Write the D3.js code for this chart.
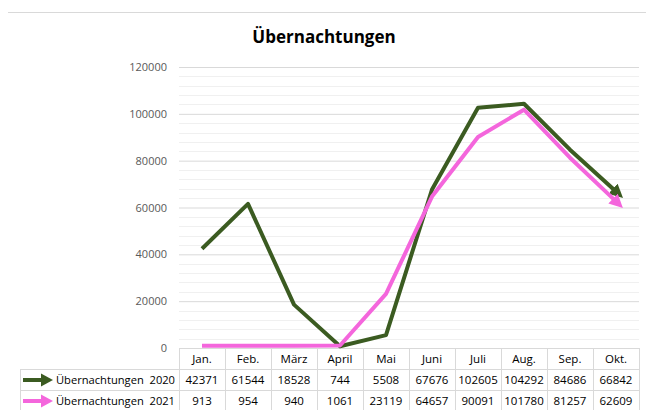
<!DOCTYPE html>
<html>
<head>
    <meta charset="utf-8">
    <title>Übernachtungen</title>
    <script src="https://d3js.org/d3.v7.min.js"></script>
    <style>
        body {
            margin: 0;
            background: #fff;
        }
    </style>
</head>
<body>
    <div id="chart"></div>
    <script>
        let months = ["Jan.", "Feb.", "März", "April", "Mai", "Juni", "Juli", "Aug.", "Sep.", "Okt."];
        let values2020 = [42371, 61544, 18528, 744, 5508, 67676, 102605, 104292, 84686, 66842];
        let values2021 = [913, 954, 940, 1061, 23119, 64657, 90091, 101780, 81257, 62609];
        let seriesNames = ["Übernachtungen  2020", "Übernachtungen  2021"];
        let seriesColors = ["#3b5b21", "#f466dc"];
        let yTicks = [0, 20000, 40000, 60000, 80000, 100000, 120000];

        let series = [values2020, values2021];

        let width = 646;
        let height = 410;
        let marginLeft = 179;
        let marginRight = 7;
        let marginTop = 67;
        let plotBottom = 348;
        let rowH = 21;
        let font = "'Open Sans', 'Liberation Sans', sans-serif";

        let svg = d3.select("#chart").append("svg")
            .attr("width", width)
            .attr("height", height)
            .style("font-family", font);

        // top border of the chart frame
        svg.append("line")
            .attr("x1", 8).attr("x2", width)
            .attr("y1", 12.5).attr("y2", 12.5)
            .attr("stroke", "#d9d9d9");

        svg.append("text")
            .attr("x", 324)
            .attr("y", 43)
            .attr("text-anchor", "middle")
            .style("font-size", "17px")
            .style("font-weight", "bold")
            .text("Übernachtungen");

        let x = d3.scaleBand()
            .domain(months)
            .range([marginLeft, width - marginRight]);

        let y = d3.scaleLinear()
            .domain([0, 120000])
            .range([plotBottom, marginTop]);

        // minor gridlines
        svg.append("g")
            .selectAll("line")
            .data(d3.range(0, 120001, 4000).filter(d => d % 20000 !== 0))
            .join("line")
            .attr("x1", marginLeft).attr("x2", width - marginRight)
            .attr("y1", d => Math.round(y(d)) + 0.5)
            .attr("y2", d => Math.round(y(d)) + 0.5)
            .attr("stroke", "#f0f0f0");

        // major gridlines + labels
        let yAxis = d3.axisLeft(y)
            .tickValues(yTicks)
            .tickSize(-(width - marginRight - marginLeft))
            .tickPadding(12)
            .tickFormat(d3.format("d"));

        svg.append("g")
            .attr("transform", `translate(${marginLeft},0)`)
            .call(yAxis)
            .call(g => g.select(".domain").remove())
            .call(g => g.selectAll(".tick line").attr("stroke", "#d9d9d9"))
            .call(g => g.selectAll(".tick text")
                .attr("fill", "#595959")
                .style("font-size", "11px")
                .style("font-family", font));

        // data table
        let tableLeft = 20;
        let table = svg.append("g");
        let gridColor = "#d9d9d9";

        // horizontal rules
        [plotBottom + rowH, plotBottom + 2 * rowH, plotBottom + 3 * rowH].forEach(yy => {
            table.append("line")
                .attr("x1", tableLeft).attr("x2", width - marginRight)
                .attr("y1", yy + 0.5).attr("y2", yy + 0.5)
                .attr("stroke", gridColor);
        });
        table.append("line")
            .attr("x1", marginLeft).attr("x2", width - marginRight)
            .attr("y1", plotBottom + 0.5).attr("y2", plotBottom + 0.5)
            .attr("stroke", gridColor);

        // vertical rules
        months.forEach(m => {
            table.append("line")
                .attr("x1", x(m) + 0.5).attr("x2", x(m) + 0.5)
                .attr("y1", plotBottom).attr("y2", plotBottom + 3 * rowH)
                .attr("stroke", gridColor);
        });
        table.append("line")
            .attr("x1", width - marginRight + 0.5).attr("x2", width - marginRight + 0.5)
            .attr("y1", plotBottom).attr("y2", plotBottom + 3 * rowH)
            .attr("stroke", gridColor);
        table.append("line")
            .attr("x1", tableLeft + 0.5).attr("x2", tableLeft + 0.5)
            .attr("y1", plotBottom + rowH).attr("y2", plotBottom + 3 * rowH)
            .attr("stroke", gridColor);

        // header
        table.selectAll("text.month")
            .data(months)
            .join("text")
            .attr("class", "month")
            .attr("x", d => x(d) + x.bandwidth() / 2)
            .attr("y", plotBottom + rowH / 2 + 4)
            .attr("text-anchor", "middle")
            .style("font-size", "11.5px")
            .text(d => d);

        // rows
        series.forEach((vals, i) => {
            let rowY = plotBottom + rowH * (i + 1);
            table.append("g")
                .selectAll("text")
                .data(vals)
                .join("text")
                .attr("x", (d, j) => x(months[j]) + x.bandwidth() / 2)
                .attr("y", rowY + rowH / 2 + 4)
                .attr("text-anchor", "middle")
                .style("font-size", "11.5px")
                .text(d => d);

            table.append("text")
                .attr("x", 56)
                .attr("y", rowY + rowH / 2 + 4)
                .attr("textLength", 119)
                .attr("lengthAdjust", "spacingAndGlyphs")
                .style("font-size", "11.5px")
                .style("white-space", "pre")
                .text(seriesNames[i]);

            // legend key arrow
            let ky = rowY + rowH / 2 + 0.5;
            table.append("line")
                .attr("x1", 23).attr("x2", 42)
                .attr("y1", ky).attr("y2", ky)
                .attr("stroke", seriesColors[i])
                .attr("stroke-width", 4);
            table.append("path")
                .attr("d", `M41,${ky - 6.5}L53,${ky}L41,${ky + 6.5}Z`)
                .attr("fill", seriesColors[i]);
        });

        // arrow markers
        let defs = svg.append("defs");
        seriesColors.forEach((c, i) => {
            defs.append("marker")
                .attr("id", "arrow" + i)
                .attr("viewBox", "0 0 10 10")
                .attr("refX", 3)
                .attr("refY", 5)
                .attr("markerWidth", 3.4)
                .attr("markerHeight", 3.4)
                .attr("markerUnits", "strokeWidth")
                .attr("orient", "auto")
                .append("path")
                .attr("d", "M0,0L10,5L0,10Z")
                .attr("fill", c);
        });

        let line = d3.line()
            .x((d, i) => x(months[i]) + x.bandwidth() / 2)
            .y(d => y(d));

        series.forEach((vals, i) => {
            svg.append("path")
                .datum(vals)
                .attr("fill", "none")
                .attr("stroke", seriesColors[i])
                .attr("stroke-width", 4)
                .attr("stroke-linejoin", "round")
                .attr("marker-end", `url(#arrow${i})`)
                .attr("d", line);
        });
    </script>
</body>
</html>
